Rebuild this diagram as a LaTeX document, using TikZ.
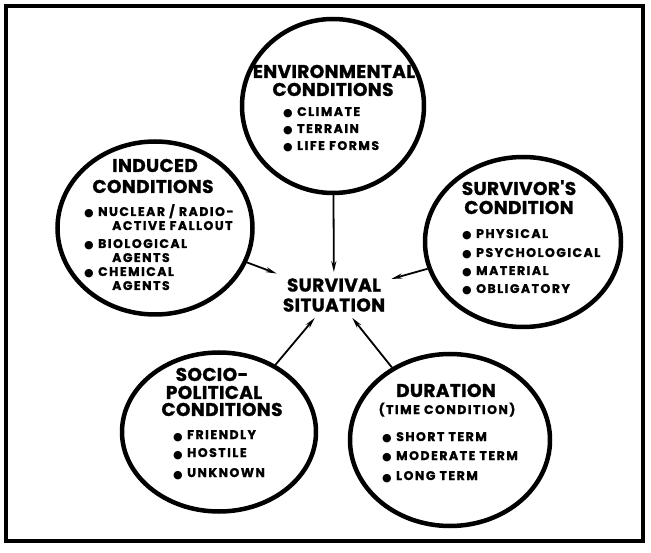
\documentclass[tikz,border=0pt]{standalone}
\usepackage{fontspec}
\setmainfont{Poppins}
\newfontfamily\dejavu{DejaVu Sans}
\newfontfamily\hdfam{Poppins}[LetterSpace=2, BoldFeatures={FakeBold=1.2}]
\newfontfamily\itfam{Poppins}[LetterSpace=12, BoldFeatures={FakeBold=1.2}]
\usetikzlibrary{shapes.geometric,arrows.meta}
\newcommand\hdfont{\hdfam\bfseries\fontsize{18.5}{20}\selectfont}
\newcommand\subfont{\itfam\bfseries\fontsize{12.5}{14}\selectfont}
\newcommand\itmfont{\itfam\bfseries\fontsize{12.5}{14}\selectfont}
\newcommand\bul{\makebox[14pt][l]{\raisebox{-1pt}{\dejavu\fontsize{11}{11}\selectfont ●}}}
\newcommand\itm[4]{\node[itm] (#1) at (#2,#3) {\bul #4};}
\newcommand\cnt[4]{\node[itm] (#1) at (#2,#3) {#4};}
\begin{document}
\begin{tikzpicture}[x=1pt,y=-1pt,
  ring/.style={ellipse, draw, line width=4.5pt, inner sep=0pt},
  head/.style={font=\hdfont, inner sep=0pt, anchor=base},
  itm/.style={font=\itmfont, inner sep=0pt, anchor=base west},
  arr/.style={-{Stealth[length=11pt,width=5pt]}, line width=1.8pt}]
\useasboundingbox (0,0) rectangle (651,553);
\draw[line width=4pt] (6,6) rectangle (643,541);
% circles
\node[ring, minimum width=182pt, minimum height=174pt] (env) at (333,106) {};
\node[ring, minimum width=195pt, minimum height=173pt] (ind) at (155,228) {};
\node[ring, minimum width=196pt, minimum height=170pt] (svr) at (523,242) {};
\node[ring, minimum width=194pt, minimum height=159pt] (soc) at (219,432) {};
\node[ring, minimum width=200pt, minimum height=172pt] (dur) at (450,440) {};
% centre
\node[font=\hdfont, align=center, inner sep=6pt] (surv) at (334,295) {SURVIVAL\\SITUATION};
% environmental
\node[head] (envA) at (334,78) {ENVIRONMENTAL};
\node[head] (envB) at (333,96) {CONDITIONS};
\itm{envC}{283}{116}{CLIMATE}
\itm{envD}{283}{133}{TERRAIN}
\itm{envE}{283}{150}{LIFE FORMS}
% induced
\node[head] (indA) at (155,172) {INDUCED};
\node[head] (indB) at (153,193) {CONDITIONS};
\itm{indC}{84}{216}{NUCLEAR / RADIO-}
\cnt{indD}{112}{230}{ACTIVE FALLOUT}
\itm{indE}{84}{248}{BIOLOGICAL}
\cnt{indF}{112}{262}{AGENTS}
\itm{indG}{84}{276}{CHEMICAL}
\cnt{indH}{112}{290}{AGENTS}
% survivor's
\node[head] (svrA) at (519,195) {SURVIVOR'S};
\node[head] (svrB) at (519,214) {CONDITION};
\itm{svrC}{462}{238}{PHYSICAL}
\itm{svrD}{462}{257}{PSYCHOLOGICAL}
\itm{svrE}{462}{275}{MATERIAL}
\itm{svrF}{462}{293}{OBLIGATORY}
% socio-political
\node[head] (socA) at (212,381) {SOCIO-};
\node[head] (socB) at (214,399) {POLITICAL};
\node[head] (socC) at (222,416) {CONDITIONS};
\itm{socD}{173}{439}{FRIENDLY}
\itm{socE}{173}{457}{HOSTILE}
\itm{socF}{173}{477}{UNKNOWN}
% duration
\node[head] (durA) at (446,397) {DURATION};
\node[font=\subfont, inner sep=0pt, anchor=base] (durB) at (447,414) {(TIME CONDITION)};
\itm{durC}{382}{441}{SHORT TERM}
\itm{durD}{382}{460}{MODERATE TERM}
\itm{durE}{382}{480}{LONG TERM}
% arrows
\draw[arr] (env) -- (surv);
\draw[arr] (ind) -- (surv);
\draw[arr] (svr) -- (surv);
\draw[arr] (soc) -- (surv);
\draw[arr] (dur) -- (surv);
\end{tikzpicture}
\end{document}
